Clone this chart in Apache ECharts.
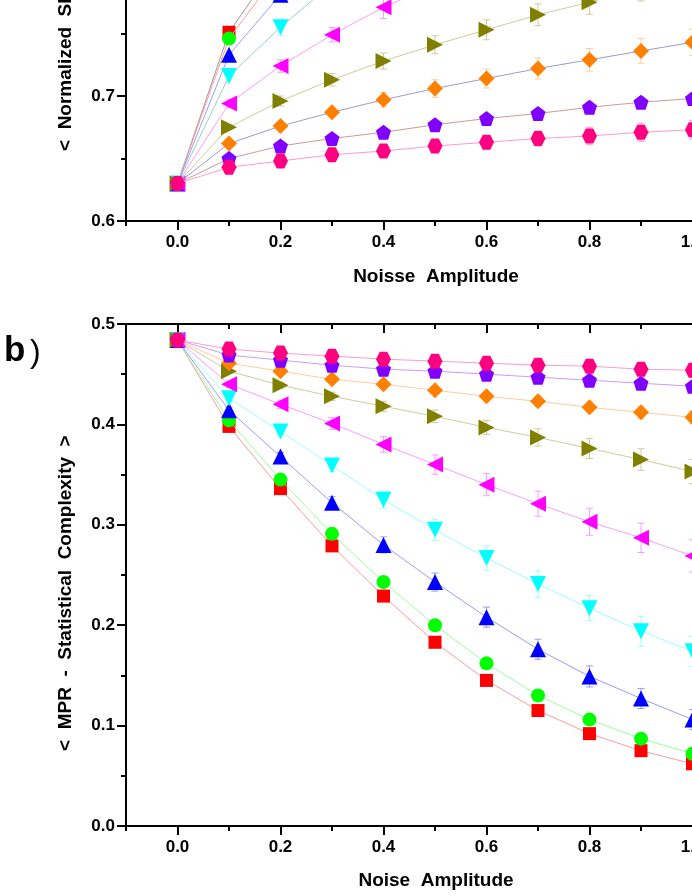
<!DOCTYPE html>
<html><head><meta charset="utf-8">
<script src="https://cdn.jsdelivr.net/npm/echarts@6/dist/echarts.min.js"></script>
<style>html,body{margin:0;padding:0;background:#fff}#c{width:692px;height:896px}</style>
</head><body><div id="c"></div>
<script>
// ---------- data ----------
const noise = [0, 0.1, 0.2, 0.3, 0.4, 0.5, 0.6, 0.7, 0.8, 0.9, 1.0];
const xMajorTicks = [0, 0.2, 0.4, 0.6, 0.8, 1.0];
const xMinorTicks = [-0.1, 0.1, 0.3, 0.5, 0.7, 0.9, 1.1];

// panel a) normalized Shannon entropy
const entRed     = [0.630, 0.751, 0.810, 0.840, 0.860, 0.874, 0.884, 0.892, 0.899, 0.905, 0.910];
const entGreen   = [0.630, 0.746, 0.801, 0.832, 0.853, 0.868, 0.879, 0.888, 0.895, 0.901, 0.906];
const entBlue    = [0.630, 0.733, 0.781, 0.812, 0.834, 0.850, 0.862, 0.872, 0.880, 0.887, 0.893];
const entCyan    = [0.630, 0.716, 0.755, 0.790, 0.808, 0.824, 0.837, 0.848, 0.857, 0.865, 0.872];
const entMagenta = [0.630, 0.694, 0.724, 0.749, 0.771, 0.789, 0.803, 0.815, 0.825, 0.834, 0.842];
const entOlive   = [0.630, 0.675, 0.696, 0.713, 0.728, 0.741, 0.753, 0.765, 0.775, 0.786, 0.796];
const entOrange  = [0.630, 0.662, 0.676, 0.687, 0.697, 0.706, 0.714, 0.722, 0.729, 0.736, 0.743];
const entPurple  = [0.630, 0.650, 0.660, 0.666, 0.671, 0.677, 0.682, 0.686, 0.691, 0.695, 0.698];
const entPink    = [0.630, 0.643, 0.648, 0.653, 0.656, 0.660, 0.663, 0.666, 0.668, 0.671, 0.673];

const entRedErr     = [0, 0.002, 0.004, 0.005, 0.006, 0.006, 0.007, 0.007, 0.008, 0.008, 0.008];
const entGreenErr   = [0, 0.002, 0.004, 0.005, 0.006, 0.006, 0.007, 0.007, 0.008, 0.008, 0.008];
const entBlueErr    = [0, 0.002, 0.004, 0.005, 0.006, 0.006, 0.007, 0.007, 0.008, 0.008, 0.008];
const entCyanErr    = [0, 0.003, 0.0065, 0.007, 0.008, 0.008, 0.009, 0.009, 0.010, 0.010, 0.010];
const entMagentaErr = [0, 0.003, 0.005, 0.0058, 0.009, 0.010, 0.010, 0.011, 0.011, 0.012, 0.012];
const entOliveErr   = [0, 0.002, 0.004, 0.005, 0.0064, 0.0072, 0.008, 0.0087, 0.0096, 0.010, 0.011];
const entOrangeErr  = [0, 0.002, 0.003, 0.004, 0.0058, 0.007, 0.0076, 0.0084, 0.009, 0.0098, 0.0105];
const entPurpleErr  = [0, 0.002, 0.002, 0.003, 0.003, 0.003, 0.0035, 0.0035, 0.004, 0.004, 0.004];
const entPinkErr    = [0, 0.002, 0.003, 0.004, 0.0044, 0.005, 0.0053, 0.006, 0.0069, 0.0073, 0.0075];

// panel b) MPR statistical complexity
const cmpRed     = [0.484, 0.398, 0.336, 0.279, 0.229, 0.183, 0.145, 0.115, 0.092, 0.075, 0.062];
const cmpGreen   = [0.484, 0.404, 0.345, 0.291, 0.243, 0.200, 0.162, 0.130, 0.106, 0.087, 0.072];
const cmpBlue    = [0.484, 0.414, 0.368, 0.322, 0.280, 0.243, 0.208, 0.176, 0.149, 0.127, 0.106];
const cmpCyan    = [0.484, 0.426, 0.393, 0.359, 0.325, 0.295, 0.267, 0.241, 0.217, 0.194, 0.174];
const cmpMagenta = [0.484, 0.440, 0.420, 0.401, 0.380, 0.360, 0.340, 0.321, 0.303, 0.287, 0.269];
const cmpOlive   = [0.484, 0.453, 0.439, 0.428, 0.418, 0.408, 0.397, 0.387, 0.376, 0.365, 0.353];
const cmpOrange  = [0.484, 0.461, 0.453, 0.445, 0.440, 0.434, 0.428, 0.423, 0.417, 0.412, 0.407];
const cmpPurple  = [0.484, 0.469, 0.464, 0.459, 0.455, 0.453, 0.450, 0.447, 0.444, 0.441, 0.438];
const cmpPink    = [0.484, 0.475, 0.471, 0.468, 0.465, 0.463, 0.461, 0.459, 0.458, 0.455, 0.454];

const cmpRedErr     = [0, 0.002, 0.002, 0.003, 0.003, 0.003, 0.003, 0.003, 0.003, 0.003, 0.003];
const cmpGreenErr   = [0, 0.002, 0.002, 0.003, 0.003, 0.003, 0.003, 0.003, 0.003, 0.003, 0.003];
const cmpBlueErr    = [0, 0.003, 0.004, 0.006, 0.008, 0.009, 0.010, 0.010, 0.0105, 0.010, 0.010];
const cmpCyanErr    = [0, 0.003, 0.004, 0.006, 0.0087, 0.0105, 0.012, 0.013, 0.0124, 0.015, 0.015];
const cmpMagentaErr = [0, 0.003, 0.004, 0.006, 0.0078, 0.0096, 0.011, 0.0125, 0.0135, 0.0146, 0.016];
const cmpOliveErr   = [0, 0.002, 0.003, 0.004, 0.005, 0.0063, 0.007, 0.0087, 0.010, 0.0107, 0.012];
const cmpOrangeErr  = [0, 0.002, 0.002, 0.003, 0.003, 0.004, 0.004, 0.005, 0.005, 0.006, 0.006];
const cmpPurpleErr  = [0, 0.002, 0.002, 0.002, 0.003, 0.003, 0.003, 0.003, 0.003, 0.003, 0.003];
const cmpPinkErr    = [0, 0.002, 0.002, 0.002, 0.003, 0.003, 0.003, 0.003, 0.003, 0.003, 0.003];

// ---------- styling ----------
const FONT = '"Liberation Sans", Arial, Helvetica, sans-serif';
const markerColors = ['#ff0000', '#00ff00', '#0000ff', '#00ffff', '#ff00ff', '#808000', '#ff8000', '#8000ff', '#ff0080'];
const lightColors  = ['#ff9a9a', '#9aff9a', '#9a9aff', '#9affff', '#ff9aff', '#cccc9a', '#ffcc9a', '#cc9aff', '#ff9acc'];
const topLineColors = ['#9a9a9a', '#ff9a9a', '#9a9aff', '#9acccc', '#ff9aff', '#cccc9a', '#9a9acc', '#cc9a9a', '#ff9acc'];
const symbols = [
  'rect', 'circle', 'triangle',
  'path://M0,0 L100,0 L50,86 Z',
  'path://M0,50 L86,0 L86,100 Z',
  'path://M86,50 L0,0 L0,100 Z',
  'diamond',
  'path://M50,0 L97.6,34.5 L79.4,90.5 L20.6,90.5 L2.4,34.5 Z',
  'path://M25,0 L75,0 L100,43.3 L75,86.6 L25,86.6 L0,43.3 Z'
];
const symbolSizes = [13, 14, 16, 16, 16, 16, 16, 15, 15];

const entSets = [entRed, entGreen, entBlue, entCyan, entMagenta, entOlive, entOrange, entPurple, entPink];
const entErrs = [entRedErr, entGreenErr, entBlueErr, entCyanErr, entMagentaErr, entOliveErr, entOrangeErr, entPurpleErr, entPinkErr];
const cmpSets = [cmpRed, cmpGreen, cmpBlue, cmpCyan, cmpMagenta, cmpOlive, cmpOrange, cmpPurple, cmpPink];
const cmpErrs = [cmpRedErr, cmpGreenErr, cmpBlueErr, cmpCyanErr, cmpMagentaErr, cmpOliveErr, cmpOrangeErr, cmpPurpleErr, cmpPinkErr];

function errRender(params, api) {
  const x = api.value(0), lo = api.value(1), hi = api.value(2);
  const a = api.coord([x, hi]), b = api.coord([x, lo]);
  const w = 3.5;
  const st = { stroke: api.visual('color'), lineWidth: 1 };
  return { type: 'group', children: [
    { type: 'line', shape: { x1: a[0], y1: a[1], x2: b[0], y2: b[1] }, style: st },
    { type: 'line', shape: { x1: a[0] - w, y1: a[1], x2: a[0] + w, y2: a[1] }, style: st },
    { type: 'line', shape: { x1: b[0] - w, y1: b[1], x2: b[0] + w, y2: b[1] }, style: st }
  ]};
}

const axisLineStyle = { color: '#000', width: 2 };
const labelStyle = { color: '#000', fontSize: 17, fontWeight: 'bold', fontFamily: FONT };

function xAxisPair(gridIndex, position, inside, showLabels) {
  return [
    { type: 'value', gridIndex, position, min: -0.1, max: 1.1,
      axisLine: { show: true, onZero: false, lineStyle: axisLineStyle },
      axisTick: { show: true, inside, length: 9, customValues: xMajorTicks, lineStyle: axisLineStyle },
      axisLabel: { show: showLabels, customValues: xMajorTicks, margin: 13, formatter: v => v.toFixed(1), ...labelStyle },
      splitLine: { show: false } },
    { type: 'value', gridIndex, position, min: -0.1, max: 1.1,
      axisLine: { show: false, onZero: false },
      axisTick: { show: true, inside, length: 5, customValues: xMinorTicks, lineStyle: axisLineStyle },
      axisLabel: { show: false }, splitLine: { show: false } }
  ];
}

function yAxis(gridIndex, min, max) {
  return { type: 'value', gridIndex, min, max, interval: 0.1,
    axisLine: { show: true, onZero: false, lineStyle: axisLineStyle },
    axisTick: { show: true, length: 9, lineStyle: axisLineStyle },
    minorTick: { show: true, splitNumber: 2, length: 5, lineStyle: axisLineStyle },
    axisLabel: { margin: 11, formatter: v => v.toFixed(1), ...labelStyle },
    splitLine: { show: false }, minorSplitLine: { show: false } };
}

const series = [];
function addPanel(sets, errs, xIdx, yIdx, lineColors) {
  sets.forEach((vals, i) => {
    series.push({
      type: 'custom', xAxisIndex: xIdx, yAxisIndex: yIdx, renderItem: errRender,
      itemStyle: { color: lightColors[i] }, z: 2 + i * 2, silent: true,
      data: noise.map((x, k) => [x, vals[k] - errs[i][k], vals[k] + errs[i][k]]).filter((d, k) => errs[i][k] > 0)
    });
    series.push({
      type: 'line', xAxisIndex: xIdx, yAxisIndex: yIdx, z: 3 + i * 2,
      data: noise.map((x, k) => [x, vals[k]]),
      symbol: symbols[i], symbolSize: symbolSizes[i], showAllSymbol: true,
      itemStyle: { color: markerColors[i] },
      lineStyle: { color: lineColors[i], width: 1 }
    });
  });
}
addPanel(entSets, entErrs, 0, 0, topLineColors);
addPanel(cmpSets, cmpErrs, 2, 1, lightColors);

const titleFont = 'bold 19px ' + FONT;
const option = {
  animation: false,
  backgroundColor: '#fff',
  grid: [
    { left: 126, top: -279, width: 618, height: 500, outerBoundsMode: 'none', containLabel: false },
    { left: 126, top: 324, width: 618, height: 502, outerBoundsMode: 'none', containLabel: false }
  ],
  xAxis: [
    ...xAxisPair(0, 'bottom', false, true),
    ...xAxisPair(1, 'bottom', false, true),
    ...xAxisPair(1, 'top', true, false)
  ],
  yAxis: [ yAxis(0, 0.6, 1.0), yAxis(1, 0, 0.5) ],
  series,
  graphic: [
    { type: 'text', x: 436, y: 277, style: { text: 'Noisse  Amplitude', font: titleFont, fill: '#000', textAlign: 'center', textVerticalAlign: 'middle' } },
    { type: 'text', x: 436, y: 881, style: { text: 'Noise  Amplitude', font: titleFont, fill: '#000', textAlign: 'center', textVerticalAlign: 'middle' } },
    { type: 'text', x: 66, y: 151, rotation: Math.PI / 2, style: { text: '<  Normalized  Shannon  Entropy  >', font: titleFont, fill: '#000', textAlign: 'left', textVerticalAlign: 'middle' } },
    { type: 'text', x: 66, y: 751, rotation: Math.PI / 2, style: { text: '<  MPR  -  Statistical  Complexity  >', font: titleFont, fill: '#000', textAlign: 'left', textVerticalAlign: 'middle' } },
    { type: 'text', x: 4, y: 351, style: { text: 'b', font: 'bold 35px ' + FONT, fill: '#000', textAlign: 'left', textVerticalAlign: 'middle' } },
    { type: 'text', x: 30, y: 353, style: { text: ')', font: '32px ' + FONT, fill: '#000', textAlign: 'left', textVerticalAlign: 'middle' } }
  ]
};
const chart = echarts.init(document.getElementById('c'), null, { renderer: 'canvas' });
chart.setOption(option);
</script>
</body></html>
